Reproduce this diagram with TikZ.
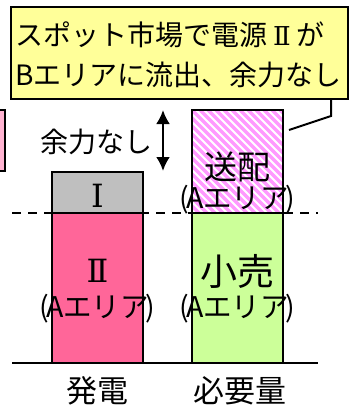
\documentclass[tikz,border=0pt]{standalone}
\usepackage{fontspec}
\newfontfamily\jp{Noto Sans CJK JP}
\newfontfamily\rn{DejaVu Serif}
\usetikzlibrary{arrows.meta}
\definecolor{calloutfill}{HTML}{FFFF99}
\definecolor{leftpink}{HTML}{FFB3D1}
\definecolor{grayfill}{HTML}{BFBFBF}
\definecolor{pinkfill}{HTML}{FF6699}
\definecolor{greenfill}{HTML}{CCFF99}
\definecolor{stripe}{HTML}{FF99FF}
\newcommand{\areaA}{(\kern-3pt Aエリア\kern-3pt)}
\tikzset{
  bar/.style={draw=black, line width=2.5pt},
  numeral/.style={font=\rn\fontsize{32}{32}\selectfont, inner sep=0pt},
  lbl/.style={font=\jp\fontsize{35}{35}\selectfont, inner sep=0pt},
  sub/.style={font=\jp\fontsize{28.5}{28.5}\selectfont, inner sep=0pt},
  calltext/.style={font=\jp\fontsize{28}{28}\selectfont, inner sep=0pt, anchor=west},
  axis/.style={font=\jp\fontsize{31}{31}\selectfont, inner sep=0pt},
}
\begin{document}
\begin{tikzpicture}[x=1pt,y=-1pt]
\useasboundingbox (0,0) rectangle (362,409);
% left partial box
\draw[bar, fill=leftpink] (-10,110) rectangle (5,171);
% generation
\draw[bar, fill=grayfill] (52,172) rectangle (143,213);
\draw[bar, fill=pinkfill] (52,213) rectangle (143,363);
% demand
\draw[bar, fill=greenfill] (192,213) rectangle (283,363);
\begin{scope}
  \clip (192,110) rectangle (283,213);
  \fill[white] (192,110) rectangle (283,213);
  \foreach \k in {-120,-112,...,100}
    \draw[stripe, line width=3.2pt] (192+\k,110) -- (192+\k+130,240);
\end{scope}
\draw[bar] (192,110) rectangle (283,213);
% lines
\draw[line width=2.2pt, dash pattern=on 9pt off 7pt] (12,213) -- (318,213);
\draw[line width=2.2pt] (12,363) -- (318,363);
% labels in bars
\node[numeral] (one) at (97.5,196) {Ⅰ};
\node[numeral] (two) at (97.5,271) {Ⅱ};
\node[sub] (twoA) at (97.5,309) {\areaA};
\node[lbl, font=\jp\fontsize{33}{33}\selectfont] (send) at (237.5,167) {送配};
\node[sub] (sendA) at (237.5,200) {\areaA};
\node[lbl, font=\jp\fontsize{37}{37}\selectfont] (retail) at (237.5,271) {小売};
\node[sub] (retailA) at (237.5,309) {\areaA};
% bottom labels
\node[axis] (gen) at (97,391) {発電};
\node[axis] (need) at (240,391) {必要量};
% margin arrow
\coordinate (atop) at (163,110);
\coordinate (abot) at (163,171);
\draw[line width=2.5pt, {Latex[length=14pt,width=14pt]}-{Latex[length=14pt,width=14pt]}] (atop) -- (abot);
\node[font=\jp\fontsize{28}{28}\selectfont, inner sep=0pt] (noroom) at (96,142) {余力なし};
% callout
\draw[line width=2pt, fill=calloutfill] (11,7) rectangle (348,99);
\coordinate (t0) at (331,99);
\coordinate (t1) at (331,116);
\coordinate (t2) at (289,130);
\draw[line width=2pt] (t0) -- (t1) -- (t2);
\node[calltext] (c1) at (15,35) {スポット市場で電源{\rn\fontsize{26}{26}\selectfont\hspace{6pt}Ⅱ\hspace{6pt}}が};
\node[calltext] (c2) at (15,75) {Bエリアに流出、余力なし};
\end{tikzpicture}
\end{document}
